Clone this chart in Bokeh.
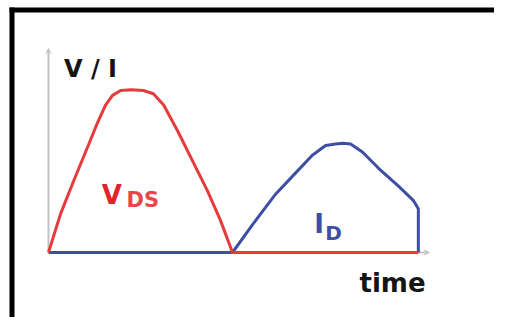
from bokeh.plotting import figure
from bokeh.models import Label, Arrow, VeeHead, Range1d, BoxAnnotation
from bokeh.embed import file_html
from bokeh.resources import INLINE

# V_DS waveform (normalised units)
t_vds = [0, 0.33, 0.68, 1.06, 1.33, 1.55, 1.74, 1.96, 2.25, 2.58, 2.85, 3.13, 3.51, 3.86, 4.32, 4.67, 5.0, 10.05]
vds = [0, 0.24, 0.44, 0.65, 0.80, 0.91, 0.97, 1.0, 1.005, 1.0, 0.98, 0.91, 0.75, 0.59, 0.38, 0.20, 0, 0]

# I_D waveform
t_id = [0, 5.0, 5.54, 6.17, 6.71, 7.17, 7.53, 7.80, 8.0, 8.21, 8.53, 8.97, 9.51, 9.92, 10.05, 10.05]
i_d = [0, 0, 0.17, 0.36, 0.49, 0.60, 0.66, 0.67, 0.675, 0.67, 0.62, 0.52, 0.41, 0.32, 0.27, 0]

y_axis_top = 1.26
x_axis_end = 10.35

RED = "#e63a3c"
BLUE = "#3e4ea3"
FONT = "DejaVu Sans"

W, H = 494, 317
X0, Y0, SX, SY = 48, 252, 36.8, 162.0   # origin pixel and pixels per unit

def px2x(px):
    return (px - X0) / SX

def py2y(py):
    return (Y0 - py) / SY

p = figure(width=W, height=H, output_backend="svg", toolbar_location=None,
           x_range=Range1d(px2x(0), px2x(W)),
           y_range=Range1d(py2y(H), py2y(0)),
           min_border=0)
p.xaxis.visible = False
p.yaxis.visible = False
p.grid.visible = False
p.outline_line_color = None
p.background_fill_color = "white"
p.border_fill_color = "white"

# black frame edges (top and left) of the original picture
p.add_layout(BoxAnnotation(left=px2x(9), right=px2x(14), top=py2y(7), bottom=py2y(H + 20),
                           fill_color="black", fill_alpha=1, line_color=None))
p.add_layout(BoxAnnotation(left=px2x(9), right=px2x(W + 20), top=py2y(7), bottom=py2y(12),
                           fill_color="black", fill_alpha=1, line_color=None))

# axes as arrows
ax_col = "#c4c4c4"
p.add_layout(Arrow(x_start=0, y_start=0, x_end=0, y_end=y_axis_top,
                   line_color=ax_col, line_width=2, level="underlay",
                   end=VeeHead(size=5, line_color=ax_col, fill_color=ax_col, line_width=1)))
p.add_layout(Arrow(x_start=0, y_start=0, x_end=x_axis_end, y_end=0,
                   line_color=ax_col, line_width=2, level="underlay",
                   end=VeeHead(size=5, line_color=ax_col, fill_color=ax_col, line_width=1)))

p.line(t_id, i_d, line_color=BLUE, line_width=3, line_join="round")
p.line(t_vds, vds, line_color=RED, line_width=3, line_join="round")

def lab(x, y, txt, size, color):
    p.add_layout(Label(x=x, y=y, text=txt, text_font=FONT, text_font_style="bold",
                       text_font_size=size, text_color=color,
                       text_baseline="alphabetic", text_align="left"))

lab(0.42, 1.13, "V / I", "24px", "#151515")
lab(8.45, -0.19, "time", "26px", "#151515")
lab(1.45, 0.352, "V", "26px", "#e0242a")
lab(2.12, 0.321, "DS", "21px", "#e8474a")
lab(7.22, 0.179, "I", "26px", BLUE)
lab(7.52, 0.123, "D", "20px", BLUE)

open("out.html", "w").write(file_html(p, INLINE))
